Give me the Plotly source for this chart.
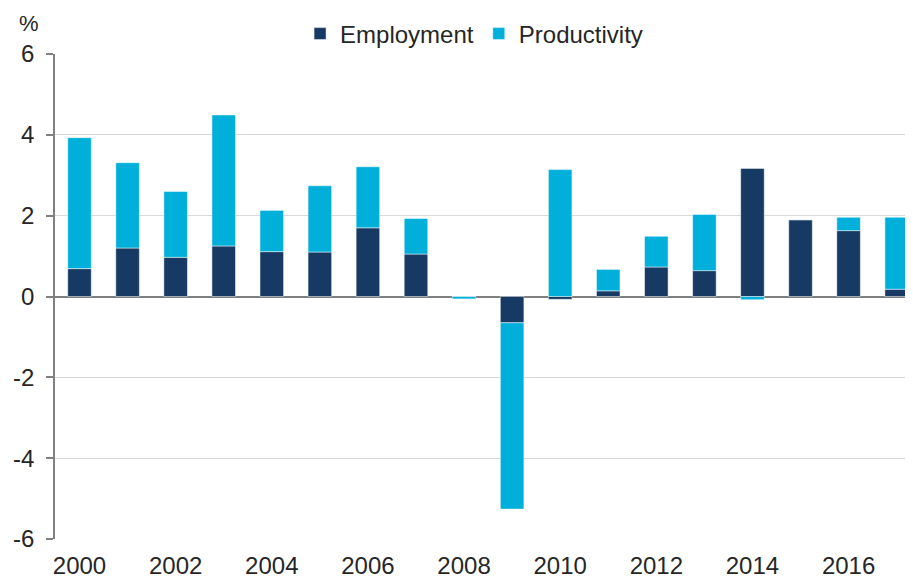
import plotly.graph_objects as go

# データ（図から読み取った値, %）
years = list(range(2000, 2018))
employment = [0.69, 1.20, 0.97, 1.25, 1.11, 1.10, 1.70, 1.05, 0.00,
              -0.65, -0.07, 0.14, 0.73, 0.64, 3.17, 1.90, 1.63, 0.18]
productivity = [3.24, 2.11, 1.63, 3.24, 1.02, 1.64, 1.51, 0.88, -0.06,
                -4.61, 3.14, 0.53, 0.76, 1.39, -0.08, 0.00, 0.33, 1.78]
y_ticks = [-6, -4, -2, 0, 2, 4, 6]
x_ticks = list(range(2000, 2018, 2))

# 色とフォント
colors = {
    "employment": "#173a64",
    "productivity": "#00b0da",
    "axis": "#808080",
    "grid": "#d9d9d9",
    "text": "#262626",
}
font_family = "Liberation Sans, Arial, sans-serif"

# ページのbody余白(8px)を差し引いたサイズ
fig_width = 905
fig_height = 573

fig = go.Figure()

fig.add_trace(
    go.Bar(
        x=years,
        y=employment,
        name="Employment",
        marker=dict(color=colors["employment"],
                    line=dict(color="rgba(255,255,255,0.6)", width=0.8)),
    )
)
fig.add_trace(
    go.Bar(
        x=years,
        y=productivity,
        name="Productivity",
        marker=dict(color=colors["productivity"],
                    line=dict(color="rgba(255,255,255,0.6)", width=0.8)),
    )
)

fig.update_layout(
    barmode="relative",
    bargap=0.51,
    width=fig_width,
    height=fig_height,
    margin=dict(l=47, r=0, t=46, b=42, autoexpand=False),
    paper_bgcolor="white",
    plot_bgcolor="white",
    font=dict(family=font_family, size=24, color=colors["text"]),
    showlegend=True,
    legend=dict(
        orientation="h",
        xref="container",
        yref="container",
        x=0.515,
        xanchor="center",
        y=1 - 26 / fig_height,
        yanchor="middle",
        font=dict(size=24),
        traceorder="normal",
        itemwidth=30,
        bgcolor="rgba(0,0,0,0)",
    ),
    annotations=[
        dict(
            text="%",
            xref="paper",
            yref="paper",
            x=-0.03,
            y=1.063,
            xanchor="center",
            yanchor="middle",
            showarrow=False,
            font=dict(size=22, color=colors["text"]),
        )
    ],
)

fig.update_xaxes(
    range=[1999.49, 2017.34],
    tickmode="array",
    tickvals=x_ticks,
    ticktext=[str(y) for y in x_ticks],
    showgrid=False,
    showline=False,
    zeroline=False,
    ticks="",
    automargin=False,
    ticklabelstandoff=10,
)

fig.update_yaxes(
    range=[-6, 6],
    tickmode="array",
    tickvals=y_ticks,
    ticktext=[str(v) for v in y_ticks],
    showgrid=True,
    gridcolor=colors["grid"],
    gridwidth=1.2,
    zeroline=True,
    zerolinecolor=colors["axis"],
    zerolinewidth=1.8,
    showline=True,
    linecolor=colors["axis"],
    linewidth=1.8,
    ticks="outside",
    ticklen=7,
    tickwidth=1.5,
    tickcolor=colors["axis"],
    automargin=False,
    ticklabelstandoff=7,
)

fig.write_html("out.html")
